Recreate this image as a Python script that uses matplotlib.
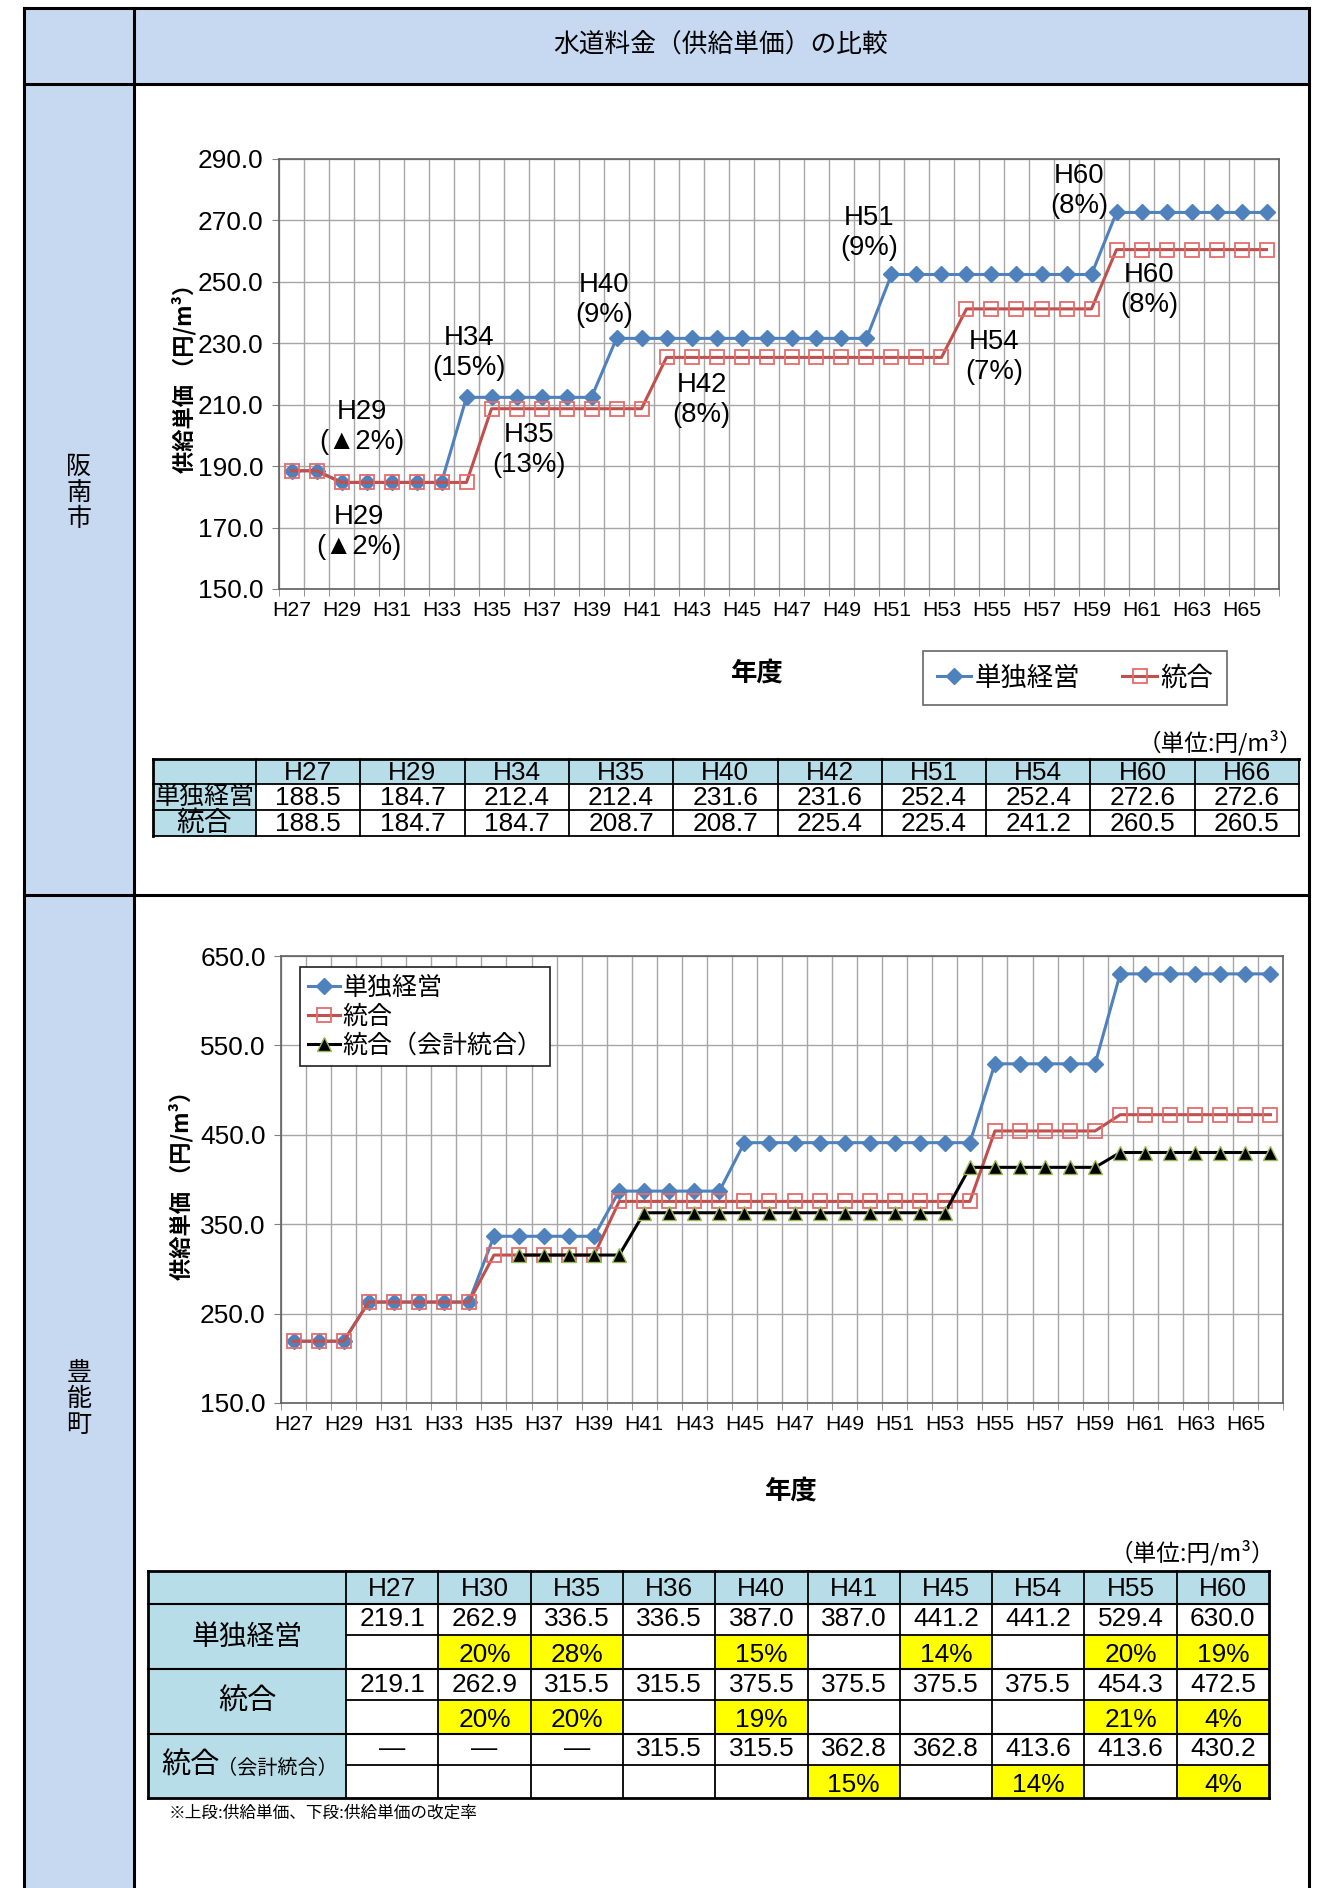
import matplotlib
matplotlib.use('Agg')
import matplotlib.pyplot as plt
from matplotlib import font_manager
from matplotlib.patches import Rectangle
import numpy as np

W, H = 1322, 1888

names = {f.name for f in font_manager.fontManager.ttflist}
if 'Liberation Sans Narrow' in names:
    NUM = 'Liberation Sans Narrow'
    K = 1.0
else:
    NUM = 'Liberation Sans'
    K = 0.9
JP = 'Noto Sans CJK JP'
FAM = [NUM, JP, 'DejaVu Sans']
plt.rcParams['font.family'] = FAM

# ---- data ----
years = ['H27', 'H28', 'H29', 'H30', 'H31', 'H32', 'H33', 'H34', 'H35', 'H36',
         'H37', 'H38', 'H39', 'H40', 'H41', 'H42', 'H43', 'H44', 'H45', 'H46',
         'H47', 'H48', 'H49', 'H50', 'H51', 'H52', 'H53', 'H54', 'H55', 'H56',
         'H57', 'H58', 'H59', 'H60', 'H61', 'H62', 'H63', 'H64', 'H65', 'H66']

# 阪南市
hannan_single = [188.5, 188.5, 184.7, 184.7, 184.7, 184.7, 184.7, 212.4, 212.4, 212.4,
                 212.4, 212.4, 212.4, 231.6, 231.6, 231.6, 231.6, 231.6, 231.6, 231.6,
                 231.6, 231.6, 231.6, 231.6, 252.4, 252.4, 252.4, 252.4, 252.4, 252.4,
                 252.4, 252.4, 252.4, 272.6, 272.6, 272.6, 272.6, 272.6, 272.6, 272.6]
hannan_merge = [188.5, 188.5, 184.7, 184.7, 184.7, 184.7, 184.7, 184.7, 208.7, 208.7,
                208.7, 208.7, 208.7, 208.7, 208.7, 225.4, 225.4, 225.4, 225.4, 225.4,
                225.4, 225.4, 225.4, 225.4, 225.4, 225.4, 225.4, 241.2, 241.2, 241.2,
                241.2, 241.2, 241.2, 260.5, 260.5, 260.5, 260.5, 260.5, 260.5, 260.5]

# 豊能町
toyono_single = [219.1, 219.1, 219.1, 262.9, 262.9, 262.9, 262.9, 262.9, 336.5, 336.5,
                 336.5, 336.5, 336.5, 387.0, 387.0, 387.0, 387.0, 387.0, 441.2, 441.2,
                 441.2, 441.2, 441.2, 441.2, 441.2, 441.2, 441.2, 441.2, 529.4, 529.4,
                 529.4, 529.4, 529.4, 630.0, 630.0, 630.0, 630.0, 630.0, 630.0, 630.0]
toyono_merge = [219.1, 219.1, 219.1, 262.9, 262.9, 262.9, 262.9, 262.9, 315.5, 315.5,
                315.5, 315.5, 315.5, 375.5, 375.5, 375.5, 375.5, 375.5, 375.5, 375.5,
                375.5, 375.5, 375.5, 375.5, 375.5, 375.5, 375.5, 375.5, 454.3, 454.3,
                454.3, 454.3, 454.3, 472.5, 472.5, 472.5, 472.5, 472.5, 472.5, 472.5]
toyono_acct = [None, None, None, None, None, None, None, None, None, 315.5,
               315.5, 315.5, 315.5, 315.5, 362.8, 362.8, 362.8, 362.8, 362.8, 362.8,
               362.8, 362.8, 362.8, 362.8, 362.8, 362.8, 362.8, 413.6, 413.6, 413.6,
               413.6, 413.6, 413.6, 430.2, 430.2, 430.2, 430.2, 430.2, 430.2, 430.2]

# 阪南市 annotations
ann_text = ['H29\n(▲2%)', 'H29\n(▲2%)', 'H34\n(15%)', 'H35\n(13%)', 'H40\n(9%)',
            'H42\n(8%)', 'H51\n(9%)', 'H54\n(7%)', 'H60\n(8%)', 'H60\n(8%)']

# tables
t1_cols = ['H27', 'H29', 'H34', 'H35', 'H40', 'H42', 'H51', 'H54', 'H60', 'H66']
t1_single = [188.5, 184.7, 212.4, 212.4, 231.6, 231.6, 252.4, 252.4, 272.6, 272.6]
t1_merge = [188.5, 184.7, 184.7, 208.7, 208.7, 225.4, 225.4, 241.2, 260.5, 260.5]

t2_cols = ['H27', 'H30', 'H35', 'H36', 'H40', 'H41', 'H45', 'H54', 'H55', 'H60']
t2_single = [219.1, 262.9, 336.5, 336.5, 387.0, 387.0, 441.2, 441.2, 529.4, 630.0]
t2_single_pct = ['', '20%', '28%', '', '15%', '', '14%', '', '20%', '19%']
t2_merge = [219.1, 262.9, 315.5, 315.5, 375.5, 375.5, 375.5, 375.5, 454.3, 472.5]
t2_merge_pct = ['', '20%', '20%', '', '19%', '', '', '', '21%', '4%']
t2_acct = [None, None, None, 315.5, 315.5, 362.8, 362.8, 413.6, 413.6, 430.2]
t2_acct_pct = ['', '', '', '', '', '15%', '', '14%', '', '4%']

# ---- layout helpers ----
BLUE = '#4F81BD'
RED = '#C0504D'
HEADBG = '#C6D9F1'
TBLBG = '#B7DDE8'
NUMSZ = 21 * K


def px(x, y, w, h):
    return [x / W, 1 - (y + h) / H, w / W, h / H]


fig = plt.figure(figsize=(W / 100, H / 100), dpi=100)
bg = fig.add_axes([0, 0, 1, 1])
bg.set_xlim(0, W)
bg.set_ylim(H, 0)
bg.axis('off')

# frame
bg.add_patch(Rectangle((24, 8), 1285, 76, fc=HEADBG, ec='none'))
bg.add_patch(Rectangle((24, 84), 110, 1810, fc=HEADBG, ec='none'))
for (xa, xb, ya, yb) in [(24, 1309, 8, 8), (24, 1309, 84, 84), (24, 1309, 895, 895),
                         (24, 24, 8, 1890), (134, 134, 8, 1890), (1309, 1309, 8, 1890)]:
    bg.plot([xa, xb], [ya, yb], color='black', lw=2.2, solid_capstyle='projecting')

bg.text(721, 46, '水道料金（供給単価）の比較', family=[JP], fontsize=18.5,
        ha='center', va='center')
bg.text(79, 493, '阪\n南\n市', family=[JP], fontsize=18, ha='center', va='center',
        linespacing=1.0)
bg.text(79, 1399, '豊\n能\n町', family=[JP], fontsize=18, ha='center', va='center',
        linespacing=1.0)


def style_axes(ax, ymin, ymax, ystep):
    n = len(years)
    ax.set_xlim(-0.5, n - 0.5)
    ax.set_ylim(ymin, ymax)
    ax.set_yticks(np.arange(ymin, ymax + 1, ystep))
    ax.set_yticklabels(['%.1f' % v for v in np.arange(ymin, ymax + 1, ystep)])
    ax.set_xticks(np.arange(0, n, 2))
    ax.set_xticklabels(years[::2])
    ax.set_xticks(np.arange(-0.5, n, 1), minor=True)
    ax.grid(axis='x', which='minor', color='#A6A6A6', lw=1)
    ax.grid(axis='y', which='major', color='#A6A6A6', lw=1)
    ax.set_axisbelow(True)
    ax.tick_params(axis='x', which='major', length=0, pad=9, labelsize=17 * K)
    ax.tick_params(axis='x', which='minor', length=5, color='#808080', direction='out')
    ax.tick_params(axis='y', which='major', length=5, color='#808080', pad=6,
                   labelsize=21 * K)
    for s in ax.spines.values():
        s.set_color('#606060')
        s.set_linewidth(1.2)


def plot_series(ax, single, merge, acct=None):
    x = np.arange(len(years))
    h = []
    h += ax.plot(x, single, color=BLUE, lw=2.2, marker='D', ms=8.5, mfc=BLUE, mec=BLUE,
                 label='単独経営', zorder=3)
    h += ax.plot(x, merge, color=RED, lw=2.2, marker='s', ms=10.5, mfc='none',
                 mec='#E46C6A', mew=1.3, label='統合', zorder=4)
    if acct is not None:
        h += ax.plot(x, np.array(acct, dtype=float), color='black', lw=2.2, marker='^',
                     ms=10.5, mfc='black', mec='#9BBB59', mew=1, label='統合（会計統合）',
                     zorder=5)
    return h


# ---- chart 1 ----
ax1 = fig.add_axes(px(279, 159, 1000, 430))
h1 = plot_series(ax1, hannan_single, hannan_merge)
style_axes(ax1, 150, 290, 20)
ann_pos = [(2.8, 202.9), (2.7, 168.4), (7.1, 226.9), (9.5, 195.1), (12.5, 244.1),
           (16.4, 211.6), (23.1, 265.9), (28.1, 225.5), (31.5, 279.6), (34.3, 247.3)]
for t, (xx, yy) in zip(ann_text, ann_pos):
    ax1.text(xx, yy, t, fontsize=22 * K, ha='center', va='center', linespacing=1.2,
             family=FAM, zorder=6)

fig.text(184 / W, 1 - 373 / H, '供給単価 （円/m³）', family=[JP], fontsize=16,
         fontweight='bold', rotation=90, ha='center', va='center')
fig.text(757 / W, 1 - 673 / H, '年度', family=[JP], fontsize=19, fontweight='bold',
         ha='center', va='center')
leg1 = fig.legend(h1, [l.get_label() for l in h1], loc='center',
                  bbox_to_anchor=(1075 / W, 1 - 678 / H), ncol=2, frameon=True,
                  fancybox=False, edgecolor='#404040', prop={'family': JP, 'size': 19},
                  handlelength=1.3, handletextpad=0.15, columnspacing=1.6,
                  borderpad=0.5)
leg1.get_frame().set_linewidth(1.2)

# ---- chart 2 ----
ax2 = fig.add_axes(px(281, 956, 1002, 447))
h2 = plot_series(ax2, toyono_single, toyono_merge, toyono_acct)
style_axes(ax2, 150, 650, 100)
fig.text(181 / W, 1 - 1180 / H, '供給単価 （円/m³）', family=[JP], fontsize=16,
         fontweight='bold', rotation=90, ha='center', va='center')
fig.text(791 / W, 1 - 1491 / H, '年度', family=[JP], fontsize=19, fontweight='bold',
         ha='center', va='center')
leg2 = fig.legend(h2, [l.get_label() for l in h2], loc='upper left',
                  bbox_to_anchor=(300 / W, 1 - 967 / H), borderaxespad=0, frameon=True,
                  fancybox=False, edgecolor='#202020', framealpha=1,
                  prop={'family': JP, 'size': 18}, handlelength=1.3, handletextpad=0.1,
                  labelspacing=0.12, borderpad=0.3)
leg2.get_frame().set_linewidth(1.2)


# ---- tables ----
def hline(x0, x1, y, lw=1.3):
    bg.plot([x0, x1], [y, y], color='black', lw=lw)


def vline(x, y0, y1, lw=1.3):
    bg.plot([x, x], [y0, y1], color='black', lw=lw)


def fmt(v):
    return '—' if v is None else '%.1f' % v


# table 1
t1_x, t1_fw, t1_cw = 153, 103, 104.3
t1_y = [759, 784, 810, 836]
t1_r = t1_x + t1_fw + 10 * t1_cw
bg.text(t1_r + 4, 743, '（単位:円/m³）', family=[JP], fontsize=17, ha='right', va='center')
bg.add_patch(Rectangle((t1_x, t1_y[0]), t1_r - t1_x, t1_y[1] - t1_y[0], fc=TBLBG, ec='none'))
bg.add_patch(Rectangle((t1_x, t1_y[1]), t1_fw, t1_y[3] - t1_y[1], fc=TBLBG, ec='none'))
for i, y in enumerate(t1_y):
    hline(t1_x, t1_r, y, 2 if i == 0 else 1.3)
vline(t1_x, t1_y[0], t1_y[-1], 2)
for i in range(11):
    vline(t1_x + t1_fw + i * t1_cw, t1_y[0], t1_y[-1])
for i in range(10):
    cx = t1_x + t1_fw + (i + 0.5) * t1_cw
    bg.text(cx, (t1_y[0] + t1_y[1]) / 2 + 1, t1_cols[i], fontsize=NUMSZ, ha='center', va='center')
    bg.text(cx, (t1_y[1] + t1_y[2]) / 2 + 1, fmt(t1_single[i]), fontsize=NUMSZ, ha='center', va='center')
    bg.text(cx, (t1_y[2] + t1_y[3]) / 2 + 1, fmt(t1_merge[i]), fontsize=NUMSZ, ha='center', va='center')
bg.text(t1_x + t1_fw / 2, (t1_y[1] + t1_y[2]) / 2, '単独経営', family=[JP], fontsize=18,
        ha='center', va='center')
bg.text(t1_x + t1_fw / 2, (t1_y[2] + t1_y[3]) / 2, '統合', family=[JP], fontsize=20,
        ha='center', va='center')

# table 2
t2_x, t2_fw, t2_cw = 148, 198, 92.3
t2_y = [1571, 1604, 1635, 1669, 1700, 1734, 1765, 1798]
t2_r = t2_x + t2_fw + 10 * t2_cw
bg.text(t2_r + 6, 1553, '（単位:円/m³）', family=[JP], fontsize=17, ha='right', va='center')
bg.add_patch(Rectangle((t2_x, t2_y[0]), t2_r - t2_x, t2_y[1] - t2_y[0], fc=TBLBG, ec='none'))
bg.add_patch(Rectangle((t2_x, t2_y[1]), t2_fw, t2_y[-1] - t2_y[1], fc=TBLBG, ec='none'))
rows = [(t2_single, t2_single_pct), (t2_merge, t2_merge_pct), (t2_acct, t2_acct_pct)]
for r, (vals, pcts) in enumerate(rows):
    ya, yb, yc = t2_y[1 + 2 * r], t2_y[2 + 2 * r], t2_y[3 + 2 * r]
    for i in range(10):
        xl = t2_x + t2_fw + i * t2_cw
        cx = xl + t2_cw / 2
        if pcts[i]:
            bg.add_patch(Rectangle((xl, yb), t2_cw, yc - yb, fc='#FFFF00', ec='none'))
            bg.text(cx, (yb + yc) / 2 + 3, pcts[i], fontsize=NUMSZ, ha='center', va='center')
        bg.text(cx, (ya + yb) / 2, fmt(vals[i]), fontsize=NUMSZ, ha='center', va='center')
    hline(t2_x + t2_fw, t2_r, yb, 1.3)
for i, y in enumerate([t2_y[0], t2_y[1], t2_y[3], t2_y[5], t2_y[7]]):
    hline(t2_x, t2_r, y, 2 if i in (0, 4) else 1.5)
vline(t2_x, t2_y[0], t2_y[-1], 2)
for i in range(11):
    vline(t2_x + t2_fw + i * t2_cw, t2_y[0], t2_y[-1], 2 if i == 10 else 1.3)
for i in range(10):
    cx = t2_x + t2_fw + (i + 0.5) * t2_cw
    bg.text(cx, (t2_y[0] + t2_y[1]) / 2 + 1, t2_cols[i], fontsize=NUMSZ, ha='center', va='center')
bg.text(t2_x + t2_fw / 2, (t2_y[1] + t2_y[3]) / 2, '単独経営', family=[JP], fontsize=20,
        ha='center', va='center')
bg.text(t2_x + t2_fw / 2, (t2_y[3] + t2_y[5]) / 2, '統合', family=[JP], fontsize=21,
        ha='center', va='center')
bg.text(220, (t2_y[5] + t2_y[7]) / 2, '統合', family=[JP], fontsize=21, ha='right', va='center')
bg.text(217, (t2_y[5] + t2_y[7]) / 2 + 2, '（会計統合）', family=[JP], fontsize=14.5,
        ha='left', va='center')
bg.text(169, 1813, '※上段:供給単価、下段:供給単価の改定率', family=[JP], fontsize=12,
        ha='left', va='center')

fig.savefig('out.png', dpi=100)
